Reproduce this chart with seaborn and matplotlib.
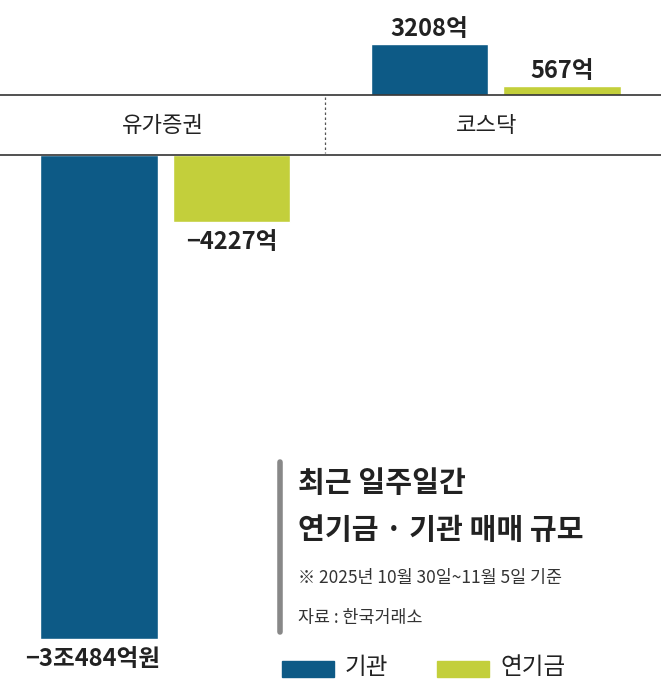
import pandas as pd
import matplotlib.pyplot as plt
import seaborn as sns

categories = ['유가증권', '코스닥']
series = ['기관', '연기금']
inst_vals = [-30484, 3208]
pension_vals = [-4227, 567]
value_labels = {('유가증권', '기관'): '−3조484억원', ('유가증권', '연기금'): '−4227억',
                ('코스닥', '기관'): '3208억', ('코스닥', '연기금'): '567억'}
colors = ['#0d5a86', '#c3cf3b']

sns.set_theme(style='white')
plt.rcParams['font.family'] = ['Noto Sans CJK KR', 'DejaVu Sans']

df = pd.DataFrame({
    'cat': categories * 2,
    'who': [series[0]] * 2 + [series[1]] * 2,
    'val': inst_vals + pension_vals,
})

W, H = 661, 691
fig = plt.figure(figsize=(W / 100, H / 100), dpi=100)
upp = 63.0  # units per pixel
ax_top = fig.add_axes([0, 1 - 95 / H, 1, 95 / H])
ax_bot = fig.add_axes([0, 0, 1, 1 - 155 / H])

for ax, sel in ((ax_top, df['val'] > 0), (ax_bot, df['val'] < 0)):
    sns.barplot(data=df[sel], x='cat', y='val', hue='who', hue_order=series,
                order=categories, palette=colors, width=0.8, gap=0.11,
                saturation=1, legend=False, ax=ax)
    ax.set_xlim(-0.5, 1.5)
    ax.axis('off')
ax_top.set_ylim(0, 95 * upp)
ax_bot.set_ylim(-(H - 155) * upp, 0)

for ax in (ax_top, ax_bot):
    for p in ax.patches:
        h = p.get_height()
        if h == 0:
            continue
        xc = p.get_x() + p.get_width() / 2
        ci = round(p.get_x() + p.get_width() / 2)
        who = series[0] if xc < ci else series[1]
        lab = value_labels[(categories[ci], who)]
        if h > 0:
            ax.text(xc, h + 3 * upp, lab, ha='center', va='bottom', fontsize=17,
                    fontweight='heavy', color='#222222')
        else:
            ax.text(xc if who == '연기금' else xc - 0.02, h - 8 * upp, lab, ha='center',
                    va='top', fontsize=17, fontweight='heavy', color='#222222')

# category band
for y in (95, 155):
    fig.add_artist(plt.Line2D([0, 1], [1 - y / H] * 2, color='#333333', lw=1.2))
fig.add_artist(plt.Line2D([325 / W] * 2, [1 - 97 / H, 1 - 153 / H], color='#555555',
                          lw=0.9, ls=(0, (2, 2))))
for cx, name in ((163, categories[0]), (487, categories[1])):
    fig.text(cx / W, 1 - 126 / H, name, ha='center', va='center', fontsize=16, color='#222222')

# title block
fig.add_artist(plt.Line2D([280 / W] * 2, [1 - 462 / H, 1 - 632 / H], color='#888888', lw=4))
fig.text(298 / W, 1 - 483 / H, '최근 일주일간', fontsize=21, fontweight='heavy', va='center', color='#222222')
fig.text(298 / W, 1 - 530 / H, '연기금 · 기관 매매 규모', fontsize=21, fontweight='heavy', va='center', color='#222222')
fig.text(298 / W, 1 - 578 / H, '※ 2025년 10월 30일~11월 5일 기준', fontsize=12.5, va='center', color='#333333')
fig.text(298 / W, 1 - 618 / H, '자료 : 한국거래소', fontsize=12.5, va='center', color='#333333')

# legend
fig.add_artist(plt.Rectangle((282 / W, 1 - 677 / H), 52 / W, 16 / H, color=colors[0]))
fig.text(345 / W, 1 - 668 / H, series[0], fontsize=17, va='center', color='#222222')
fig.add_artist(plt.Rectangle((437 / W, 1 - 677 / H), 52 / W, 16 / H, color=colors[1]))
fig.text(500 / W, 1 - 668 / H, series[1], fontsize=17, va='center', color='#222222')

fig.savefig('out.png', dpi=100)
